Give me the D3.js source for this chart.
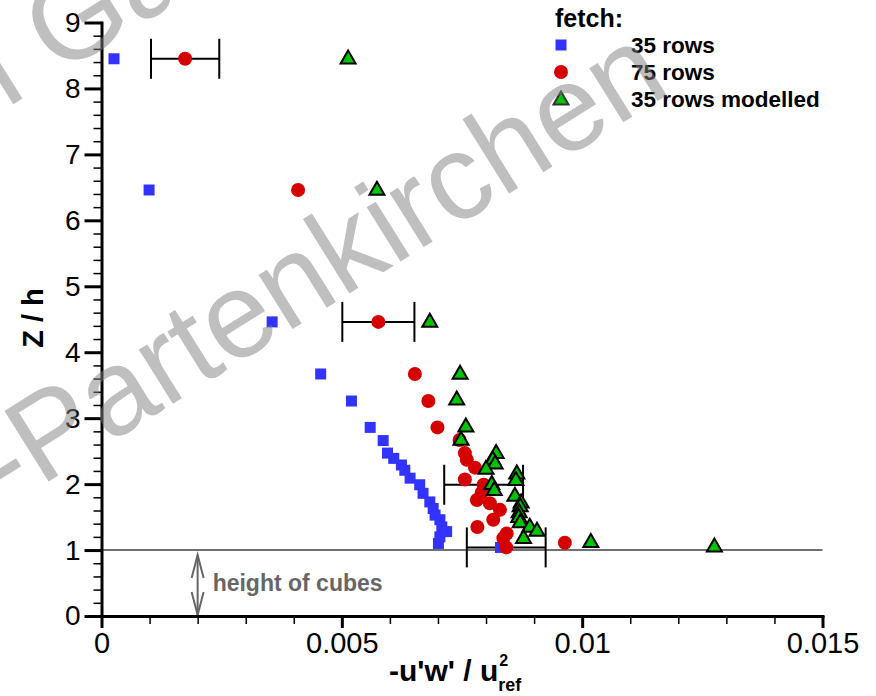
<!DOCTYPE html>
<html>
<head>
<meta charset="utf-8">
<script src="https://cdn.jsdelivr.net/npm/d3@7"></script>
<style>
  html, body { margin: 0; padding: 0; background: #fff; }
  svg { display: block; font-family: "Liberation Sans", Arial, Helvetica, sans-serif; }
</style>
</head>
<body>
<svg id="chart" width="876" height="696"></svg>
<script>
// ---- data: -u'w'/u_ref^2 against z/h ----
const seriesNames = ["35 rows", "75 rows", "35 rows modelled"];

const rows35Z = [8.45, 6.46, 4.46, 3.67, 3.26, 2.86, 2.66, 2.47, 2.39, 2.29, 2.21, 2.09, 1.99, 1.86, 1.73, 1.63, 1.53, 1.46, 1.35, 1.28, 1.20, 1.10, 1.04];
const rows35X = [0.00026, 0.00099, 0.00355, 0.00456, 0.00520, 0.00559, 0.00586, 0.00595, 0.00608, 0.00624, 0.00631, 0.00642, 0.00662, 0.00669, 0.00683, 0.00690, 0.00694, 0.00704, 0.00708, 0.00718, 0.00704, 0.00701, 0.00830];

const rows75Z = [8.45, 6.46, 4.46, 3.67, 3.26, 2.86, 2.67, 2.47, 2.37, 2.25, 2.07, 1.99, 1.87, 1.76, 1.71, 1.61, 1.46, 1.35, 1.25, 1.18, 1.11, 1.04];
const rows75X = [0.00174, 0.00409, 0.00576, 0.00652, 0.00680, 0.00699, 0.00745, 0.00756, 0.00760, 0.00777, 0.00756, 0.00795, 0.00791, 0.00781, 0.00808, 0.00829, 0.00815, 0.00782, 0.00843, 0.00836, 0.00964, 0.00842];

const modelZ = [8.46, 6.47, 4.47, 3.68, 3.29, 2.88, 2.68, 2.48, 2.38, 2.32, 2.24, 2.17, 2.07, 2.01, 1.92, 1.83, 1.73, 1.67, 1.58, 1.51, 1.43, 1.36, 1.30, 1.19, 1.13, 1.06];
const modelX = [0.00513, 0.00573, 0.00683, 0.00746, 0.00739, 0.00758, 0.00748, 0.00821, 0.00814, 0.00819, 0.00800, 0.00864, 0.00862, 0.00812, 0.00817, 0.00860, 0.00873, 0.00871, 0.00869, 0.00868, 0.00871, 0.00891, 0.00906, 0.00878, 0.01018, 0.01275];

// error bars on the 75-rows profile
const errZ = [8.45, 4.46, 1.99, 1.04];
const errX = [0.00174, 0.00576, 0.00795, 0.00842];
const errHalf = [0.00071, 0.00075, 0.00082, 0.00082];

const xTickValues = [0, 0.005, 0.01, 0.015];
const xTickLabels = ["0", "0.005", "0.01", "0.015"];
const yTickValues = [0, 1, 2, 3, 4, 5, 6, 7, 8, 9];
const yTickLabels = ["0", "1", "2", "3", "4", "5", "6", "7", "8", "9"];

const cubeHeight = 1;       // z/h of the roughness elements
const cubeArrowX = 0.002;   // where the height arrow sits

const FONT = '"Liberation Sans", Arial, Helvetica, sans-serif';
const BLUE = "#3333ff", RED = "#d50000", GREEN = "#00c400";

const svg = d3.select("#chart");

const x = d3.scaleLinear().domain([0, 0.015]).range([101.5, 822.5]);
const y = d3.scaleLinear().domain([0, 9]).range([616, 22.5]);

// ---- reference line at the cube height ----
svg.append("line")
  .attr("x1", x(0)).attr("x2", x(0.015))
  .attr("y1", y(cubeHeight)).attr("y2", y(cubeHeight))
  .attr("stroke", "#707070").attr("stroke-width", 2);

// double arrow "height of cubes"
const ax = x(cubeArrowX), aTop = y(cubeHeight) + 5, aBot = y(0) - 1;
const arrow = svg.append("g").attr("stroke", "#666").attr("stroke-width", 2).attr("fill", "none");
arrow.append("line").attr("x1", ax).attr("x2", ax).attr("y1", aTop).attr("y2", aBot);
arrow.append("path").attr("d", `M${ax - 6},${aTop + 23}L${ax},${aTop}L${ax + 6},${aTop + 23}`);
arrow.append("path").attr("d", `M${ax - 6},${aBot - 23}L${ax},${aBot}L${ax + 6},${aBot - 23}`);
svg.append("text")
  .attr("x", ax + 15).attr("y", 591)
  .attr("font-family", FONT).attr("font-size", 23).attr("font-weight", "bold")
  .attr("fill", "#666").text("height of cubes");

// ---- axes ----
const xMinor = x.ticks(15).filter(v => !xTickValues.some(t => Math.abs(t - v) < 1e-9));
const yMinor = y.ticks(45).filter(v => Math.abs(v - Math.round(v)) > 1e-6);

const gxm = svg.append("g").attr("transform", `translate(0,${y(0)})`)
  .call(d3.axisBottom(x).tickValues(xMinor).tickSize(8).tickSizeOuter(0).tickFormat(""));
gxm.select(".domain").remove();
gxm.selectAll("line").attr("stroke", "#000").attr("stroke-width", 1.5);

const gym = svg.append("g").attr("transform", `translate(${x(0)},0)`)
  .call(d3.axisLeft(y).tickValues(yMinor).tickSize(8).tickSizeOuter(0).tickFormat(""));
gym.select(".domain").remove();
gym.selectAll("line").attr("stroke", "#000").attr("stroke-width", 1.5);

const gx = svg.append("g").attr("transform", `translate(0,${y(0)})`)
  .call(d3.axisBottom(x).tickValues(xTickValues).tickSize(12).tickPadding(4).tickSizeOuter(0)
    .tickFormat((d, i) => xTickLabels[i]));
gx.attr("font-family", FONT).attr("font-size", 29);
gx.select(".domain").attr("stroke", "#000").attr("stroke-width", 3).attr("stroke-linecap", "square");
gx.selectAll(".tick line").attr("stroke", "#000").attr("stroke-width", 3);
gx.selectAll(".tick text").attr("fill", "#000");

const gy = svg.append("g").attr("transform", `translate(${x(0)},0)`)
  .call(d3.axisLeft(y).tickValues(yTickValues).tickSize(17).tickPadding(4).tickSizeOuter(0)
    .tickFormat((d, i) => yTickLabels[i]));
gy.attr("font-family", FONT).attr("font-size", 28);
gy.select(".domain").attr("stroke", "#000").attr("stroke-width", 3).attr("stroke-linecap", "square");
gy.selectAll(".tick line").attr("stroke", "#000").attr("stroke-width", 3);
gy.selectAll(".tick text").attr("fill", "#000");

// axis titles
svg.append("text")
  .attr("transform", `translate(43,318) rotate(-90)`)
  .attr("text-anchor", "middle")
  .attr("font-family", FONT).attr("font-size", 29).attr("font-weight", "bold")
  .text("Z / h");

const xt = svg.append("text")
  .attr("x", 389).attr("y", 681)
  .attr("font-family", FONT).attr("font-size", 30).attr("font-weight", "bold")
  .text("-u'w' / u");
const xtEnd = 389 + xt.node().getComputedTextLength();
svg.append("text").attr("x", xtEnd + 1).attr("y", 666)
  .attr("font-family", FONT).attr("font-size", 16).attr("font-weight", "bold").text("2");
svg.append("text").attr("x", xtEnd).attr("y", 691)
  .attr("font-family", FONT).attr("font-size", 18).attr("font-weight", "bold").text("ref");

// ---- error bars ----
const eb = svg.append("g").attr("stroke", "#000").attr("stroke-width", 2);
errZ.forEach((z, i) => {
  const x0 = x(errX[i] - errHalf[i]), x1 = x(errX[i] + errHalf[i]), yy = y(z);
  eb.append("line").attr("x1", x0).attr("x2", x1).attr("y1", yy).attr("y2", yy);
  eb.append("line").attr("x1", x0).attr("x2", x0).attr("y1", yy - 20).attr("y2", yy + 20);
  eb.append("line").attr("x1", x1).attr("x2", x1).attr("y1", yy - 20).attr("y2", yy + 20);
});

// ---- markers ----
const triPath = "M0,-7.5L7.5,5.5L-7.5,5.5Z";

svg.append("g").selectAll("rect")
  .data(rows35Z.map((z, i) => [rows35X[i], z]))
  .join("rect")
  .attr("x", d => x(d[0]) - 5.5).attr("y", d => y(d[1]) - 5.5)
  .attr("width", 11).attr("height", 11).attr("fill", BLUE);

svg.append("g").selectAll("circle")
  .data(rows75Z.map((z, i) => [rows75X[i], z]))
  .join("circle")
  .attr("cx", d => x(d[0])).attr("cy", d => y(d[1])).attr("r", 7).attr("fill", RED);

svg.append("g").selectAll("path")
  .data(modelZ.map((z, i) => [modelX[i], z]))
  .join("path")
  .attr("transform", d => `translate(${x(d[0])},${y(d[1])})`)
  .attr("d", triPath).attr("fill", GREEN).attr("stroke", "#000").attr("stroke-width", 2)
  .attr("stroke-linejoin", "miter");

// ---- legend ----
const lg = svg.append("g").attr("font-family", FONT).attr("font-weight", "bold").attr("fill", "#000");
lg.append("text").attr("x", 555).attr("y", 27).attr("font-size", 25).text("fetch:");
const legY = [45, 72, 99];
lg.append("rect").attr("x", 561 - 5.5).attr("y", legY[0] - 5.5).attr("width", 11).attr("height", 11).attr("fill", BLUE);
lg.append("circle").attr("cx", 561).attr("cy", legY[1]).attr("r", 7).attr("fill", RED);
lg.append("path").attr("transform", `translate(561,${legY[2]})`).attr("d", triPath)
  .attr("fill", GREEN).attr("stroke", "#333").attr("stroke-width", 2);
seriesNames.forEach((name, i) => {
  lg.append("text").attr("x", 631).attr("y", legY[i] + 7.5).attr("font-size", 22.5).text(name);
});

// ---- watermark ----
function watermark(str, fromIndex, px, py) {
  const t = svg.append("text")
    .attr("font-family", FONT).attr("font-size", 121)
    .attr("fill", "#808080").attr("opacity", 0.5)
    .text(str);
  const off = fromIndex > 0 ? t.node().getSubStringLength(0, fromIndex) : 0;
  t.attr("x", -off).attr("transform", `translate(${px},${py}) rotate(-32)`);
}
const wmText = "Alpin Garmisch-Partenkirchen";
watermark(wmText, wmText.indexOf("n G"), -28, 130);
watermark(wmText, wmText.indexOf("-"), 6, 508);
</script>
</body>
</html>
